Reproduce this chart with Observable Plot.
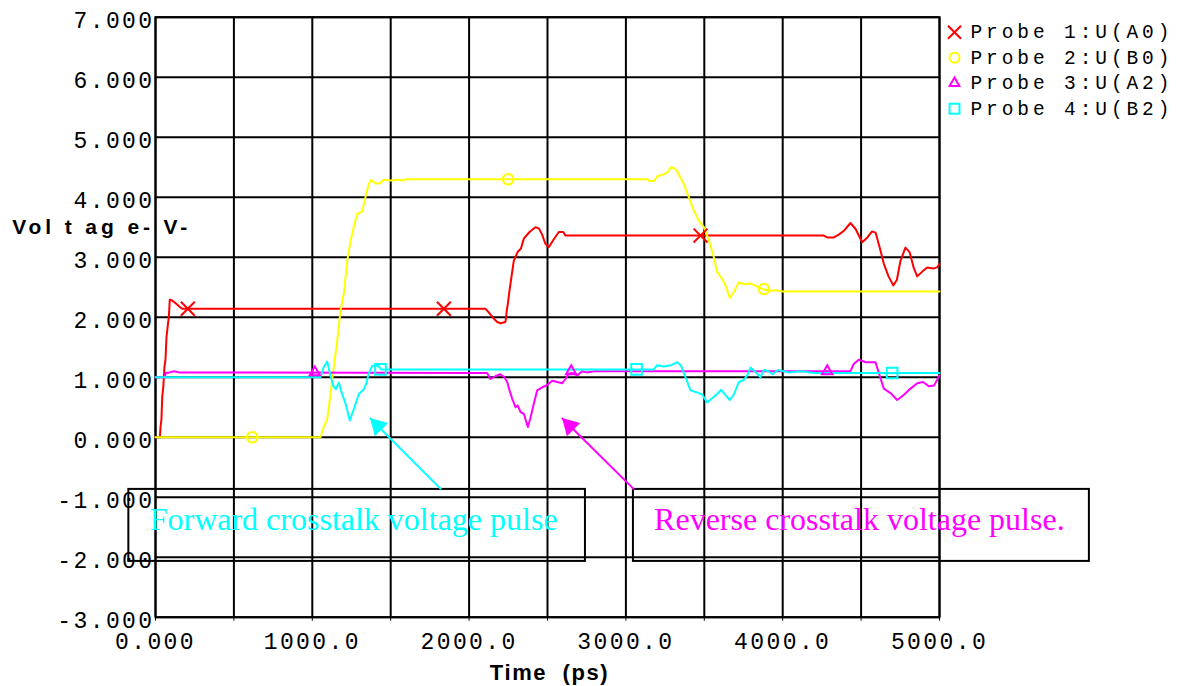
<!DOCTYPE html>
<html><head><meta charset="utf-8">
<script src="https://cdn.jsdelivr.net/npm/d3@7"></script>
<script src="https://cdn.jsdelivr.net/npm/@observablehq/plot@0.6"></script>
<style>
body{margin:0;background:#fff;}
</style></head><body><div id="chart"></div><script>
// ---- data ----
const series = ["Probe 1:U(A0)","Probe 2:U(B0)","Probe 3:U(A2)","Probe 4:U(B2)"];
const colors = ["#ff0000","#ffff00","#ff00ff","#00ffff"];
const symbols = ["times","circle","triangle","square"];

const p1T = [0,28,32,38,43,50,57,64,70,78,85,91,105,120,138,155,170,2105,2125,2150,2179,2200,2232,2240,2247,2258,2270,2285,2310,2330,2349,2385,2423,2445,2465,2487,2509,2540,2572,2600,2615,4262,4284,4326,4360,4390,4432,4465,4507,4540,4570,4592,4620,4645,4675,4705,4728,4751,4783,4810,4835,4858,4890,4921,4960,4985,5000];
const p1V = [0,0,0.17,0.3,0.67,0.85,1.17,1.3,1.67,1.85,2.0,2.29,2.28,2.25,2.21,2.17,2.14,2.14,2.08,2.0,1.92,1.9,1.92,2.1,2.22,2.45,2.67,2.94,3.09,3.14,3.31,3.42,3.5,3.48,3.38,3.22,3.17,3.3,3.42,3.42,3.36,3.36,3.33,3.33,3.38,3.44,3.57,3.47,3.25,3.33,3.43,3.41,3.15,2.89,2.68,2.53,2.62,2.94,3.16,3.08,2.83,2.68,2.76,2.83,2.81,2.83,2.89];

const p2T = [0,1052,1073,1095,1116,1137,1159,1180,1201,1223,1244,1265,1286,1318,1339,1360,1376,1403,1430,1456,1500,1540,1584,1600,3136,3150,3180,3200,3240,3267,3289,3310,3330,3369,3401,3433,3465,3497,3529,3561,3582,3614,3635,3663,3688,3720,3750,3795,3830,3869,3922,3960,4000,5000];
const p2V = [0,0,0.17,0.3,0.72,1.17,1.61,2.11,2.39,2.94,3.28,3.5,3.72,3.76,4.0,4.22,4.29,4.23,4.23,4.29,4.28,4.29,4.28,4.3,4.3,4.27,4.27,4.35,4.38,4.42,4.5,4.48,4.42,4.22,4.0,3.78,3.61,3.5,3.28,3.0,2.75,2.64,2.53,2.32,2.42,2.58,2.55,2.56,2.52,2.47,2.44,2.45,2.43,2.43];

const p3T = [0,60,64,90,120,150,2115,2136,2170,2200,2225,2243,2258,2275,2296,2310,2328,2349,2375,2392,2413,2434,2466,2498,2530,2594,2615,2636,2660,2690,2720,2750,2800,4432,4453,4485,4530,4592,4613,4645,4690,4730,4770,4815,4858,4895,4932,4965,5000];
const p3V = [1.0,1.0,1.07,1.08,1.1,1.08,1.07,0.97,1.02,1.05,1.0,0.92,0.78,0.64,0.5,0.53,0.42,0.39,0.17,0.33,0.56,0.78,0.83,0.87,0.94,0.9,0.97,1.06,1.07,1.03,1.1,1.08,1.1,1.1,1.22,1.29,1.25,1.25,1.07,0.81,0.73,0.62,0.7,0.81,0.9,0.92,0.85,0.86,1.03];

const p4T = [0,1052,1073,1095,1116,1133,1150,1169,1190,1212,1239,1265,1297,1329,1345,1360,1382,1420,1440,3178,3200,3240,3290,3327,3350,3380,3412,3450,3487,3518,3550,3582,3608,3635,3663,3690,3720,3750,3774,3795,3825,3858,3880,3910,3935,3970,4040,4120,4200,5000];
const p4V = [1.0,1.0,1.17,1.26,1.03,0.86,0.8,0.91,0.72,0.56,0.28,0.47,0.72,0.8,0.9,1.06,1.19,1.19,1.13,1.13,1.2,1.18,1.2,1.25,1.2,1.0,0.78,0.75,0.71,0.58,0.65,0.72,0.79,0.7,0.62,0.72,0.92,0.95,1.03,1.16,1.09,1.0,1.12,1.1,1.05,1.12,1.08,1.1,1.07,1.07];

// markers on the curves
const markT = [[206,1839,3476],[617,2249,3880],[1016,2651,4284],[1435,3068,4698]];
const markV = [[2.14,2.14,3.36],[0,4.3,2.47],[1.08,1.1,1.1],[1.13,1.13,1.07]];

// annotations
const noteText = ["Forward crosstalk voltage pulse","Reverse crosstalk voltage pulse."];
const noteColor = ["#00ffff","#ff00ff"];
const noteTextT = [-37, 3180];
const noteTextV = [-1.543, -1.543];
const boxT1 = [-170, 3048];
const boxT2 = [2742, 5956];
const boxV1 = [-0.87, -0.87];
const boxV2 = [-2.07, -2.07];
const arrowFromT = [1822, 3052];
const arrowFromV = [-0.87, -0.87];
const arrowToT = [1367, 2592];
const arrowToV = [0.32, 0.32];

const xTicks = d3.range(0, 5001, 500);
const yTicks = d3.range(-3, 8, 1);
const yTitle = "Vol t ag e- V-";
const xTitle = "Time  (ps)";

// ---- build ----
const allT = [p1T,p2T,p3T,p4T], allV = [p1V,p2V,p3V,p4V];
const rows = allT.flatMap((T,i) => T.map((t,j) => ({t, v: allV[i][j], s: series[i]})));
const markR = [6.4, 5.3, 3.8, 6.0];
const legR = [6.0, 5.0, 3.6, 5.6];

const marks = [
  Plot.gridX(xTicks, {stroke:"black", strokeOpacity:1, strokeWidth:2}),
  Plot.gridY(yTicks, {stroke:"black", strokeOpacity:1, strokeWidth:2}),
  Plot.frame({stroke:"black", strokeWidth:2}),
  Plot.axisX({ticks: xTicks, tickSize: 4, tickPadding: 11, label: null,
    tickFormat: d => d % 1000 ? "" : (d === 0 ? "0.000" : d.toFixed(1)),
    fontSize: 23, fontFamily: "Liberation Mono"}),
  Plot.axisY({ticks: yTicks, tickSize: 0, tickPadding: 1, label: null, dy: 3,
    tickFormat: d => d.toFixed(3), fontSize: 23, fontFamily: "Liberation Mono"}),
  Plot.line(rows, {x:"t", y:"v", z:"s", stroke:"s", strokeWidth:2, curve:"linear"})
];
series.forEach((s,i) => {
  marks.push(Plot.dot(markT[i].map((t,j)=>({t, v: markV[i][j]})), {x:"t", y:"v", symbol: symbols[i], r: markR[i], stroke: colors[i], fill: "none", strokeWidth: 2}));
});
noteText.forEach((txt,i) => {
  const d = [{x1: boxT1[i], x2: boxT2[i], y1: boxV1[i], y2: boxV2[i], tx: noteTextT[i], ty: noteTextV[i], ax: arrowFromT[i], ay: arrowFromV[i], bx: arrowToT[i], by: arrowToV[i], label: txt}];
  marks.push(Plot.rect(d, {x1:"x1", x2:"x2", y1:"y1", y2:"y2", fill:"none", stroke:"black", strokeWidth:2}));
  marks.push(Plot.text(d, {x:"tx", y:"ty", text:"label", fill: noteColor[i], textAnchor:"start", lineAnchor:"bottom", fontFamily:"Liberation Serif", fontSize:32}));
  marks.push(Plot.link(d, {x1:"ax", y1:"ay", x2:"bx", y2:"by", stroke: noteColor[i], strokeWidth:2}));
  marks.push(Plot.dot(d, {x:"bx", y:"by", symbol:"triangle", r:7, rotate:-45, dx:7.8, dy:7.8, fill: noteColor[i], stroke:"none"}));
});
series.forEach((s,i) => {
  marks.push(Plot.dot([s], {frameAnchor:"top-right", dx:15, dy:15 + i*25.5, symbol: symbols[i], r: legR[i], stroke: colors[i], fill:"none", strokeWidth:2}));
  marks.push(Plot.text([s], {frameAnchor:"top-right", dx:31, dy:15 + i*25.5, text: d=>d, textAnchor:"start", lineAnchor:"middle", fill:"black", fontFamily:"Liberation Mono", fontSize:19.5}));
});
marks.push(Plot.text([yTitle], {frameAnchor:"top-left", dx:-143.3, dy:216.6, text:d=>d, textAnchor:"start", lineAnchor:"bottom", fill:"black", fontFamily:"Liberation Sans", fontWeight:"bold", fontSize:21}));
marks.push(Plot.text([xTitle], {frameAnchor:"bottom-left", dx:334.3, dy:62.6, text:d=>d, textAnchor:"start", lineAnchor:"bottom", fill:"black", fontFamily:"Liberation Sans", fontWeight:"bold", fontSize:22}));

const chart = Plot.plot({
  width: 1187, height: 686,
  marginLeft: 155, marginRight: 248, marginTop: 16.7, marginBottom: 69.3,
  x: {domain: [0, 5000]},
  y: {domain: [-3, 7]},
  color: {domain: series, range: colors},
  style: {background: "white", color: "black", overflow: "visible"},
  marks
});
document.getElementById("chart").appendChild(chart);

// letter spacing tweaks to match the original's wide monospace look
d3.select(chart).selectAll("text").each(function() {
  const t = this.textContent;
  const el = d3.select(this);
  if (series.includes(t)) el.style("letter-spacing", "3.9px");
  else if (t === yTitle) el.style("letter-spacing", "3.9px");
  else if (t === xTitle) el.style("white-space", "pre").style("letter-spacing", "1.6px");
  else if (/^-?\d+\.\d+$/.test(t)) el.style("letter-spacing", "2.4px");
});
</script></body></html>
